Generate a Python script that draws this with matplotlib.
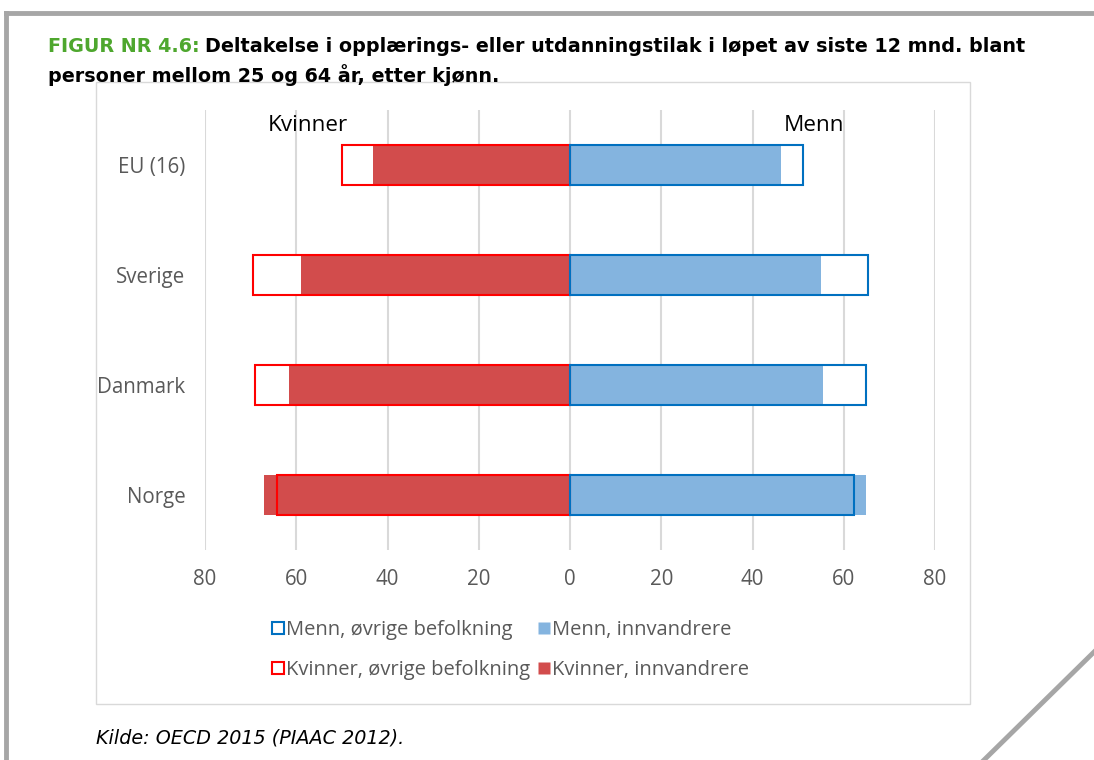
import matplotlib
matplotlib.use("Agg")
import matplotlib.pyplot as plt
from matplotlib.lines import Line2D
from matplotlib.patches import Rectangle
import numpy as np

categories = ['EU (16)', 'Sverige', 'Danmark', 'Norge']
kvinner_ovrige = [50.0, 69.4, 69.0, 64.2]
kvinner_innv = [43.2, 59.0, 61.6, 67.0]
menn_ovrige = [51.0, 65.3, 64.8, 62.2]
menn_innv = [46.2, 55.0, 55.5, 64.9]
xticks = [-80, -60, -40, -20, 0, 20, 40, 60, 80]
xticklabels = ['80', '60', '40', '20', '0', '20', '40', '60', '80']

RED_EDGE = '#ff0000'
RED_FILL = '#c00000'
BLUE_EDGE = '#0070c0'
BLUE_FILL = '#5b9bd5'
GREY_TXT = '#595959'

W, H = 1094, 760
fig = plt.figure(figsize=(W / 100, H / 100), dpi=100)
fig.patch.set_facecolor('white')

# page frame lines
fig.add_artist(Line2D([6 / W, 1.0], [1 - 13 / H, 1 - 13 / H], color='#a6a6a6', lw=3.5, transform=fig.transFigure))
fig.add_artist(Line2D([6 / W, 6 / W], [0, 1 - 13 / H], color='#a6a6a6', lw=3.5, transform=fig.transFigure))
fig.add_artist(Line2D([1.0, 984 / W], [1 - 652 / H, 0], color='#a6a6a6', lw=3.5, transform=fig.transFigure))

# chart box
fig.add_artist(Rectangle((96 / W, 1 - 704 / H), (970 - 96) / W, (704 - 82) / H, transform=fig.transFigure,
                         facecolor='none', edgecolor='#d9d9d9', lw=1))

ax = fig.add_axes([205 / W, 1 - 550 / H, 730 / W, 440 / H])
y = np.arange(len(categories))
bh = 0.364

neg_ko = -np.array(kvinner_ovrige)
neg_ki = -np.array(kvinner_innv)

# white backgrounds of outline bars
ax.barh(y, neg_ko, height=bh, color='white', zorder=2)
ax.barh(y, menn_ovrige, height=bh, color='white', zorder=2)
# filled bars
ax.barh(y, neg_ki, height=bh, color=RED_FILL, alpha=0.7, lw=0, zorder=3)
ax.barh(y, menn_innv, height=bh, color=BLUE_FILL, alpha=0.75, lw=0, zorder=3)
# outlines
ax.barh(y, neg_ko, height=bh, facecolor='none', edgecolor=RED_EDGE, lw=1.5, zorder=4)
ax.barh(y, menn_ovrige, height=bh, facecolor='none', edgecolor=BLUE_EDGE, lw=1.5, zorder=4)

ax.set_xlim(-80, 80)
ax.set_ylim(3.5, -0.5)
ax.set_xticks(xticks)
ax.set_xticklabels(xticklabels)
ax.set_yticks(y)
ax.set_yticklabels(categories)
ax.tick_params(axis='both', length=0, labelsize=14.8, labelcolor=GREY_TXT)
ax.tick_params(axis='x', pad=14)
ax.tick_params(axis='y', pad=14)
for lab in ax.get_xticklabels() + ax.get_yticklabels():
    lab.set_fontfamily('Open Sans')
for s in ax.spines.values():
    s.set_visible(False)
ax.grid(axis='x', color='#d9d9d9', lw=1.5, zorder=0)
ax.set_axisbelow(True)

ax.text(-57.4, -0.355, 'Kvinner', ha='center', va='center', fontsize=16.2, family='Open Sans', color='black')
ax.text(53.5, -0.355, 'Menn', ha='center', va='center', fontsize=16.2, family='Open Sans', color='black')

handles = [
    Line2D([], [], marker='s', ls='none', markersize=9, markerfacecolor='white', markeredgecolor=BLUE_EDGE, markeredgewidth=1.5),
    Line2D([], [], marker='s', ls='none', markersize=9, markerfacecolor='white', markeredgecolor=RED_EDGE, markeredgewidth=1.5),
    Line2D([], [], marker='s', ls='none', markersize=9, markerfacecolor=BLUE_FILL, markeredgecolor='none', alpha=0.75),
    Line2D([], [], marker='s', ls='none', markersize=9, markerfacecolor=RED_FILL, markeredgecolor='none', alpha=0.7),
]
labels = ['Menn, øvrige befolkning', 'Kvinner, øvrige befolkning', 'Menn, innvandrere', 'Kvinner, innvandrere']
leg = fig.legend(handles, labels, ncol=2, loc='center', bbox_to_anchor=(511 / W, 1 - 650 / H),
                 frameon=False, handlelength=0.5, handletextpad=0.12, columnspacing=0.45,
                 labelspacing=0.95, prop={'family': 'Open Sans', 'size': 14.5})
for t in leg.get_texts():
    t.set_color(GREY_TXT)

# title
TS = 13.8
t1 = fig.text(48 / W, 1 - 47 / H, 'FIGUR NR 4.6:', fontsize=TS, fontweight='bold', color='#4ea72e',
              family='DejaVu Sans', va='center', ha='left')
fig.canvas.draw()
bb = t1.get_window_extent()
fig.text(bb.x1 / W + 5 / W, 1 - 47 / H,
         'Deltakelse i opplærings- eller utdanningstilak i løpet av siste 12 mnd. blant',
         fontsize=TS, fontweight='bold', color='black', family='DejaVu Sans', va='center', ha='left')
fig.text(48 / W, 1 - 75 / H, 'personer mellom 25 og 64 år, etter kjønn.', fontsize=TS, fontweight='bold',
         color='black', family='DejaVu Sans', va='center', ha='left')

fig.text(96 / W, 1 - 738 / H, 'Kilde: OECD 2015 (PIAAC 2012).', fontsize=13.8, style='italic',
         color='black', family='DejaVu Sans', va='center', ha='left')

fig.savefig('out.png', dpi=100, facecolor='white')
